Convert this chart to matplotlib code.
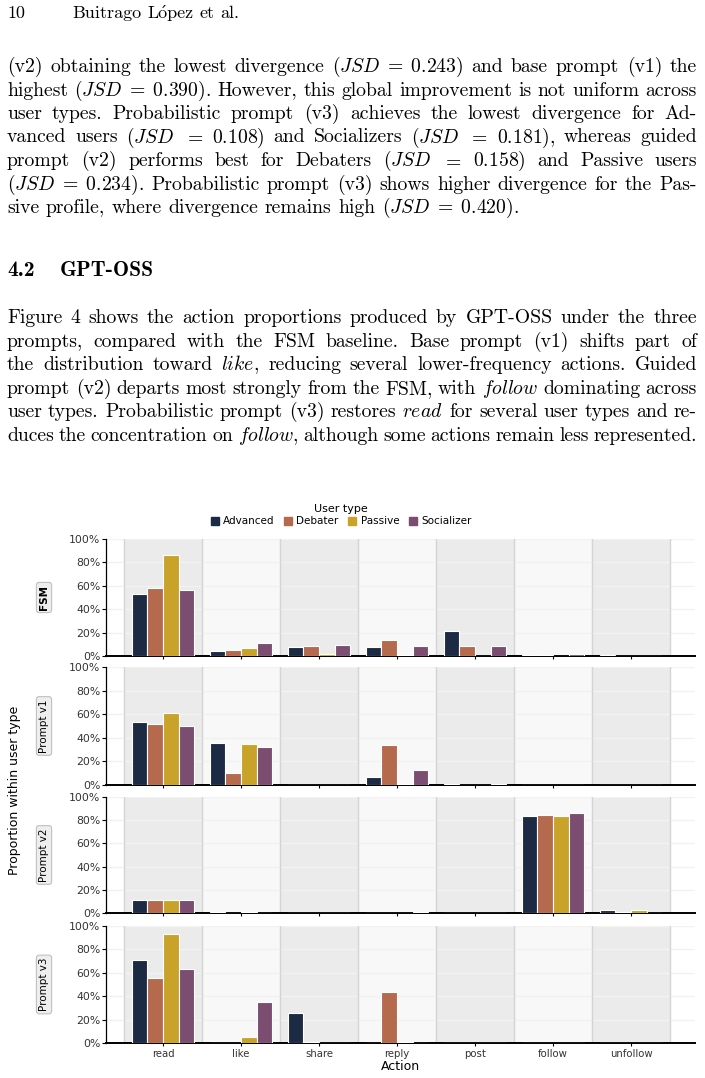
import numpy as np
import matplotlib
matplotlib.use('Agg')
import matplotlib.pyplot as plt
from matplotlib.patches import Patch
from matplotlib.ticker import PercentFormatter

plt.rcParams['mathtext.fontset'] = 'cm'

# page text
header_num = '10'
header_auth = 'Buitrago Lopez et al.'
para1 = [
    r'(v2) obtaining the lowest divergence ($JSD\;=\;0.243$) and base prompt (v1) the',
    r'highest ($JSD\;=\;0.390$). However, this global improvement is not uniform across',
    r'user types. Probabilistic prompt (v3) achieves the lowest divergence for Ad-',
    r'vanced users ($JSD$ $=$ $0.108$) and Socializers ($JSD$ $=$ $0.181$), whereas guided',
    r'prompt (v2) performs best for Debaters ($JSD$ $=$ $0.158$) and Passive users',
    r'($JSD\;=\;0.234$). Probabilistic prompt (v3) shows higher divergence for the Pas-',
    r'sive profile, where divergence remains high ($JSD\;=\;0.420$).',
]
heading_num = '4.2'
heading_txt = 'GPT-OSS'
para2 = [
    r'Figure 4 shows the action proportions produced by GPT-OSS under the three',
    r'prompts, compared with the FSM baseline. Base prompt (v1) shifts part of',
    r'the distribution toward $\mathit{like}$, reducing several lower-frequency actions. Guided',
    r'prompt (v2) departs most strongly from the FSM, with $\mathit{follow}$ dominating across',
    r'user types. Probabilistic prompt (v3) restores $\mathit{read}$ for several user types and re-',
    r'duces the concentration on $\mathit{follow}$, although some actions remain less represented.',
]

# chart data (percent), rows = Advanced, Debater, Passive, Socializer
actions = ['read', 'like', 'share', 'reply', 'post', 'follow', 'unfollow']
user_types = ['Advanced', 'Debater', 'Passive', 'Socializer']
colors = ['#1d2a44', '#b5694d', '#c9a22a', '#7b4d70']
row_names = ['FSM', 'Prompt v1', 'Prompt v2', 'Prompt v3']

fsm = [[53.0, 4.5, 7.4, 8.0, 21.0, 1.0, 0.8],
       [58.0, 5.4, 8.8, 13.4, 8.3, 0.8, 0.3],
       [86.0, 6.5, 2.0, 0.8, 0.2, 0.2, 0.0],
       [56.0, 11.0, 9.4, 8.5, 8.8, 1.7, 0.0]]
v1 = [[53.4, 35.3, 0.2, 7.0, 0.5, 0.3, 0.2],
      [52.0, 10.2, 0.2, 34.2, 0.2, 0.3, 0.2],
      [61.3, 35.0, 0.3, 1.0, 0.0, 0.3, 0.2],
      [50.3, 32.0, 0.2, 12.7, 0.7, 0.3, 0.2]]
v2 = [[11.5, 0.5, 0.2, 0.2, 0.0, 83.6, 3.0],
      [11.5, 0.2, 0.2, 0.2, 0.0, 84.7, 0.7],
      [11.5, 0.5, 0.2, 0.2, 0.0, 83.6, 2.5],
      [11.5, 0.0, 0.2, 0.5, 0.0, 86.0, 0.2]]
v3 = [[71.0, 0.2, 25.4, 0.0, 0.0, 0.0, 0.3],
      [55.3, 0.2, 0.5, 43.3, 0.0, 0.0, 0.3],
      [93.4, 5.4, 0.3, 0.5, 0.0, 0.0, 0.3],
      [63.0, 35.3, 0.3, 0.0, 0.0, 0.0, 0.3]]
panels = [fsm, v1, v2, v3]

W, H = 705, 1078
fig = plt.figure(figsize=(W / 100, H / 100), dpi=100)
renderer = fig.canvas.get_renderer()


def put_line(y, line, x0=7, x1=697, justify=True, size=14.2, family='cmr10'):
    words = line.split(' ')
    texts = [fig.text(0, 1 - y / H, w, fontsize=size, family=family, va='baseline')
             for w in words]
    widths = [t.get_window_extent(renderer).width for t in texts]
    if justify and len(words) > 1:
        gap = (x1 - x0 - sum(widths)) / (len(words) - 1)
    else:
        gap = size * 100 / 72 * 0.333
    x = x0
    xs = []
    for t, w in zip(texts, widths):
        t.set_x(x / W)
        xs.append(x)
        x += w + gap
    return texts, xs


put_line(18, header_num, justify=False, size=13)
htexts, hxs = put_line(18, header_auth, x0=72, justify=False, size=13)
# acute accent on the o of Lopez
wl = fig.text(0, 0, 'L', fontsize=13, family='cmr10')
wo = fig.text(0, 0, 'o', fontsize=13, family='cmr10')
ax_acc = hxs[1] + wl.get_window_extent(renderer).width + wo.get_window_extent(renderer).width / 2
wl.remove()
wo.remove()
fig.text(ax_acc / W, 1 - 18 / H, '\u00b4', fontsize=12, family='DejaVu Serif', ha='center',
         va='baseline')

for i, line in enumerate(para1):
    put_line(72 + i * 23.5, line, justify=(i < len(para1) - 1))
put_line(276, heading_num, justify=False, family='cmb10', size=15.5)
put_line(276, heading_txt, x0=60, justify=False, family='cmb10', size=15.5)
for i, line in enumerate(para2):
    put_line(323 + i * 23.6, line)

# chart
tops = [539, 667, 797, 926]
bots = [656, 785, 913, 1043]
x = np.arange(len(actions))
bw = 0.2
for r, (data, name) in enumerate(zip(panels, row_names)):
    ax = fig.add_axes([106 / W, 1 - bots[r] / H, (695 - 106) / W, (bots[r] - tops[r]) / H])
    for i in range(len(actions)):
        ax.axvspan(i - 0.5, i + 0.5, color='#ebebeb' if i % 2 == 0 else '#f8f8f8', zorder=0, lw=0)
    for i in range(len(actions) + 1):
        ax.axvline(i - 0.5, color='#d4d4d4', lw=1, zorder=0.6)
    for j, ut in enumerate(user_types):
        ax.bar(x + (j - 1.5) * bw, np.array(data[j]) / 100, width=bw, color=colors[j],
               edgecolor='white', linewidth=0.8, zorder=3)
    ax.set_axisbelow(True)
    ax.yaxis.grid(True, color='#f2f2f2', lw=1)
    ax.set_ylim(0, 1)
    ax.set_xlim(-0.73, 6.82)
    ax.set_yticks([0, 0.2, 0.4, 0.6, 0.8, 1.0])
    ax.yaxis.set_major_formatter(PercentFormatter(1, decimals=0))
    ax.set_xticks(x)
    ax.tick_params(axis='y', labelsize=7.8, labelcolor='#333333', length=3, width=0.8, pad=1)
    ax.tick_params(axis='x', labelsize=7.3, labelcolor='#333333', length=2, width=0.8, pad=2)
    for s in ['top', 'right']:
        ax.spines[s].set_visible(False)
    ax.spines['left'].set_linewidth(0.9)
    ax.spines['bottom'].set_linewidth(1.4)
    if r < 3:
        ax.set_xticklabels([])
    else:
        ax.set_xticklabels(actions)
        ax.set_xlabel('Action', fontsize=9, labelpad=1)
    fig.text(44 / W, 1 - (tops[r] + bots[r]) / 2 / H, name, rotation=90, ha='center', va='center',
             fontsize=7.5, fontweight='bold' if r == 0 else 'normal',
             bbox=dict(boxstyle='round,pad=0.25', fc='#eeeeee', ec='#c0c0c0', lw=0.8))

fig.text(15 / W, 1 - 790 / H, 'Proportion within user type', rotation=90, ha='center', va='center',
         fontsize=9)

handles = [Patch(color=c) for c in colors]
fig.legend(handles, user_types, title='User type', ncol=4, loc='upper center',
           bbox_to_anchor=(341 / W, 1 - 499 / H), frameon=False, fontsize=7.5, title_fontsize=8,
           handlelength=0.8, handleheight=0.8, columnspacing=0.9, handletextpad=0.4,
           borderpad=0, labelspacing=0.2)

fig.savefig('out.png', dpi=100)
